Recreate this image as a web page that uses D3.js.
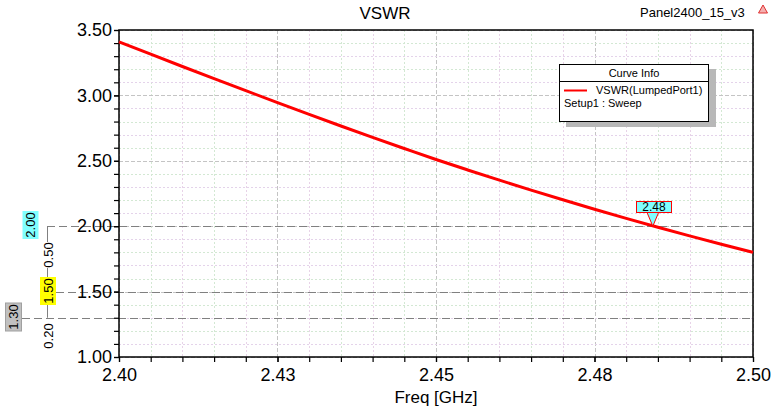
<!DOCTYPE html>
<html><head><meta charset="utf-8">
<script src="https://cdn.jsdelivr.net/npm/d3@7"></script>
<style>
body{margin:0;background:#fff;}
text{font-family:Arial,"Liberation Sans",sans-serif;}
</style></head>
<body><svg id="c" width="779" height="409"></svg>
<script>
// ---- data ----
const freq = [2.400,2.405,2.410,2.415,2.420,2.425,2.430,2.435,2.440,2.445,2.450,2.455,2.460,2.465,2.470,2.475,2.480,2.485,2.490,2.495,2.500];
const vswr = [3.410,3.315,3.221,3.128,3.036,2.945,2.855,2.766,2.679,2.594,2.510,2.430,2.352,2.276,2.202,2.130,2.060,1.992,1.926,1.862,1.800];
const xTickValues = [2.40,2.425,2.45,2.475,2.50];
const xTickLabels = ["2.40","2.43","2.45","2.48","2.50"];
const yTickValues = [1.0,1.5,2.0,2.5,3.0,3.5];
const yTickLabels = ["1.00","1.50","2.00","2.50","3.00","3.50"];
const refLines = [2.00,1.50,1.30];
const refLabels = ["2.00","1.50","1.30"];
const deltaLabels = ["0.50","0.20"];
const markerFreq = 2.4842, markerVal = 2.00, markerLabel = "2.48";
const title = "VSWR", project = "Panel2400_15_v3";
const xTitle = "Freq [GHz]";
const legendTitle = "Curve Info", legendName = "VSWR(LumpedPort1)", legendSub = "Setup1 : Sweep";

const svg = d3.select("#c");
const x = d3.scaleLinear().domain([2.40,2.50]).range([119,753]);
const y = d3.scaleLinear().domain([1.0,3.5]).range([357,30]);
const [L,R] = x.range(), [B,T] = y.range();

// grid
const xMinor = d3.range(0,21).map(i=>2.40+i*0.005);
const yMinor = d3.range(0,26).map(i=>1.0+i*0.1);
const g = svg.append("g");
xMinor.forEach((v,i)=>{
  const major = i%5===0;
  g.append("line").attr("x1",Math.round(x(v))+0.5).attr("x2",Math.round(x(v))+0.5).attr("y1",T).attr("y2",B)
   .attr("stroke", major? "#c4c4c4" : (i%2? "#d3e8d3":"#e8d3e8"))
   .attr("stroke-dasharray", major? "4,2":"2,2").attr("stroke-width",1);
});
yMinor.forEach((v,i)=>{
  const major = i%5===0;
  g.append("line").attr("x1",L).attr("x2",R).attr("y1",Math.round(y(v))+0.5).attr("y2",Math.round(y(v))+0.5)
   .attr("stroke", major? "#c4c4c4" : (i%2? "#e4d3ea":"#d3e8d3"))
   .attr("stroke-dasharray", major? "4,2":"2,2").attr("stroke-width",1);
});

// reference lines
const refStart = [47,56,22];
refLines.forEach((v,i)=>{
  svg.append("line").attr("x1",refStart[i]).attr("x2",R).attr("y1",Math.round(y(v))+0.5).attr("y2",Math.round(y(v))+0.5)
   .attr("stroke","#808080").attr("stroke-dasharray","8,4").attr("stroke-width",1);
});
svg.append("line").attr("x1",47.5).attr("x2",47.5).attr("y1",y(refLines[0])).attr("y2",y(refLines[2]))
  .attr("stroke","#808080").attr("stroke-width",1);

// frame
svg.append("rect").attr("x",L).attr("y",T).attr("width",R-L).attr("height",B-T)
  .attr("fill","none").attr("stroke","#000").attr("stroke-width",1.5);

// axes
const yMinorAxis = d3.axisLeft(y).tickValues(yMinor).tickSize(5).tickFormat("");
svg.append("g").attr("transform",`translate(${L},0)`).call(yMinorAxis).call(s=>s.select(".domain").remove())
  .selectAll("line").attr("stroke","#000").attr("stroke-width",1.2);
const yAxis = d3.axisLeft(y).tickValues(yTickValues).tickSize(5).tickPadding(2)
  .tickFormat((d,i)=>yTickLabels[i]);
svg.append("g").attr("transform",`translate(${L},0)`).call(yAxis).call(s=>s.select(".domain").remove())
  .call(s=>s.selectAll("text").attr("font-size",18).attr("font-family","Arial,Liberation Sans").attr("fill","#000"))
  .selectAll("line").attr("stroke","#000").attr("stroke-width",1.2);
const xMinorAxis = d3.axisBottom(x).tickValues(xMinor).tickSize(5).tickFormat("");
svg.append("g").attr("transform",`translate(0,${B})`).call(xMinorAxis).call(s=>s.select(".domain").remove())
  .selectAll("line").attr("stroke","#000").attr("stroke-width",1.2);
const xAxis = d3.axisBottom(x).tickValues(xTickValues).tickSize(5).tickPadding(6)
  .tickFormat((d,i)=>xTickLabels[i]);
svg.append("g").attr("transform",`translate(0,${B})`).call(xAxis).call(s=>s.select(".domain").remove())
  .call(s=>s.selectAll("text").attr("font-size",18).attr("font-family","Arial,Liberation Sans").attr("fill","#000"))
  .selectAll("line").attr("stroke","#000").attr("stroke-width",1.2);

// curve
svg.append("path").datum(freq.map((f,i)=>[f,vswr[i]]))
  .attr("d",d3.line().x(d=>x(d[0])).y(d=>y(d[1])).curve(d3.curveMonotoneX))
  .attr("fill","none").attr("stroke","#ff0000").attr("stroke-width",3);

// titles
svg.append("text").attr("x",385).attr("y",19).attr("text-anchor","middle").attr("font-size",17).text(title);
svg.append("text").attr("x",640).attr("y",17).attr("font-size",13).text(project);
svg.append("path").attr("d","M763,5 L767.5,13 L758.5,13 Z").attr("fill","#f4b0b0").attr("stroke","#e03030").attr("stroke-width",1);
svg.append("text").attr("x",436).attr("y",403).attr("text-anchor","middle").attr("font-size",17).text(xTitle);

// reference labels (rotated boxes)
const boxes = [{cx:30.5,cy:225,fill:"#80ffff"},{cx:48,cy:291,fill:"#ffff00"},{cx:13.5,cy:317,fill:"#c0c0c0"}];
refLabels.forEach((t,i)=>{
  const b = boxes[i];
  const gg = svg.append("g").attr("transform",`translate(${b.cx},${b.cy}) rotate(-90)`);
  gg.append("rect").attr("x",-14).attr("y",-8).attr("width",28).attr("height",16).attr("fill",b.fill)
    .attr("stroke", i===2? "#a0a0a0":"none");
  gg.append("text").attr("x",0).attr("y",4.5).attr("text-anchor","middle").attr("font-size",13).text(t);
});
const deltaPos = [{cx:48,cy:255},{cx:48,cy:336}];
deltaLabels.forEach((t,i)=>{
  const p = deltaPos[i];
  const gg = svg.append("g").attr("transform",`translate(${p.cx},${p.cy}) rotate(-90)`);
  gg.append("rect").attr("x",-13).attr("y",-7).attr("width",26).attr("height",14).attr("fill","#fff");
  gg.append("text").attr("x",0).attr("y",4.5).attr("text-anchor","middle").attr("font-size",13).text(t);
});

// legend
const lg = svg.append("g");
lg.append("rect").attr("x",566).attr("y",69).attr("width",150).attr("height",58).attr("fill","#b8b8b8");
lg.append("rect").attr("x",559.5).attr("y",64.5).attr("width",149).attr("height",57).attr("fill","#fff").attr("stroke","#000");
lg.append("line").attr("x1",559.5).attr("x2",708.5).attr("y1",81.5).attr("y2",81.5).attr("stroke","#000");
lg.append("text").attr("x",634).attr("y",77).attr("text-anchor","middle").attr("font-size",11).text(legendTitle);
lg.append("line").attr("x1",564).attr("x2",587).attr("y1",90.5).attr("y2",90.5).attr("stroke","#ff0000").attr("stroke-width",2);
lg.append("text").attr("x",596).attr("y",94).attr("font-size",11).text(legendName);
lg.append("text").attr("x",564).attr("y",107).attr("font-size",11).text(legendSub);

// marker
const mx = x(markerFreq), my = y(markerVal);
svg.append("path").attr("d",`M${mx-6},212 L${mx},${my} L${mx+6},212 Z`).attr("fill","#80ffff").attr("stroke","#ff0000");
svg.append("rect").attr("x",636.5).attr("y",201.5).attr("width",35).attr("height",11).attr("fill","#80ffff").attr("stroke","#ff0000");
svg.append("text").attr("x",654).attr("y",211).attr("text-anchor","middle").attr("font-size",12).text(markerLabel);
</script></body></html>
